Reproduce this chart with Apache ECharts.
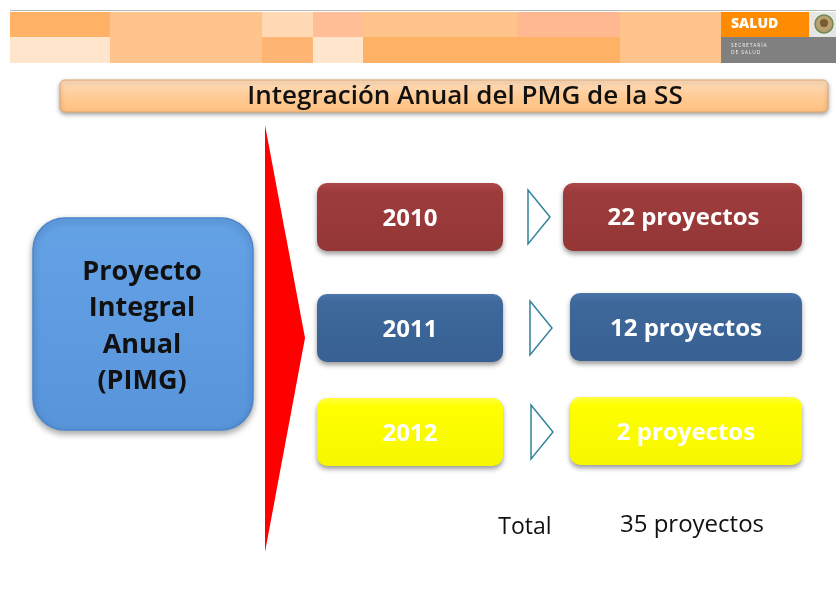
<!DOCTYPE html>
<html><head><meta charset="utf-8">
<script src="https://cdn.jsdelivr.net/npm/echarts@6/dist/echarts.min.js"></script>
<style>html,body{margin:0;padding:0;background:#fff}#c{width:836px;height:589px}</style>
</head><body><div id="c"></div>
<script>
// ---- content ----
const titleText = 'Integración Anual del PMG de la SS';
const centerLines = ['Proyecto', 'Integral', 'Anual', '(PIMG)'];
const years = ['2010', '2011', '2012'];
const projectCounts = [22, 12, 2];
const projectUnit = 'proyectos';
const totalLabel = 'Total';
const totalCount = 35;
const brandTop = 'SALUD';
const brandBottom = ['SECRETARÍA', 'DE SALUD'];

// ---- layout / style ----
const FONT = '"Open Sans", "Noto Sans", sans-serif';
const rowColors = [
  ['#AE4848', '#9E3C3C', '#943636'],
  ['#4A76AA', '#3F699B', '#386092'],
  ['#FFFF40', '#FFFF00', '#F6F600']
];
const rowTops = [183, 294, 398];
const rowH = 68;
const leftBox = { x: 317, w: 186 };
const rightBoxX = [563, 570, 570];
const rightBoxR = 802;
const chevX = [528, 530, 531];

const g = [];

// header tiles
const topTiles = [[10,110,'#FFB266'],[110,262,'#FFC48C'],[262,313,'#FFD9B3'],[313,363,'#FFBE96'],
  [363,517,'#FFC48C'],[517,620,'#FFB890'],[620,721,'#FFC48C'],[721,809,'#FF8C00'],[809,836,'#E6E6E6']];
const botTiles = [[10,110,'#FFE5CC'],[110,262,'#FFC48C'],[262,313,'#FFB574'],[313,363,'#FFE5CC'],
  [363,620,'#FFB266'],[620,721,'#FFC48C'],[721,836,'#808080']];
g.push({ type: 'line', shape: { x1: 10, y1: 10.5, x2: 836, y2: 10.5 }, style: { stroke: '#B8B8B8', lineWidth: 1 } });
topTiles.forEach(t => g.push({ type: 'rect', shape: { x: t[0], y: 12, width: t[1] - t[0], height: 25 }, style: { fill: t[2] } }));
botTiles.forEach(t => g.push({ type: 'rect', shape: { x: t[0], y: 37, width: t[1] - t[0], height: 26 }, style: { fill: t[2] } }));
g.push({ type: 'text', x: 731, y: 24, style: { text: brandTop, fill: '#fff', font: '800 14px ' + FONT, textVerticalAlign: 'middle' } });
brandBottom.forEach((s, i) => g.push({ type: 'text', x: 731, y: 46 + i * 7, style: { text: s.split('').join('\u2009'), fill: '#F0F0F0', font: '5px ' + FONT, textVerticalAlign: 'middle' } }));
g.push({ type: 'circle', shape: { cx: 824, cy: 24, r: 9 }, style: { fill: '#B8A070', stroke: '#6E8A4E', lineWidth: 1.5 } });
g.push({ type: 'circle', shape: { cx: 824, cy: 23, r: 4 }, style: { fill: '#7A5A30' } });

// title bar
g.push({ type: 'rect', shape: { x: 60, y: 80, width: 768, height: 32, r: 5 },
  style: { fill: new echarts.graphic.LinearGradient(0, 0, 0, 1, [{ offset: 0, color: '#FFE0C0' }, { offset: 0.5, color: '#FFCB96' }, { offset: 1, color: '#FFC080' }]),
    stroke: '#E0A870', lineWidth: 1, shadowBlur: 4, shadowOffsetY: 2, shadowColor: 'rgba(0,0,0,0.35)' } });
g.push({ type: 'text', x: 465, y: 97, style: { text: titleText, fill: '#111', font: '600 26px ' + FONT, textAlign: 'center', textVerticalAlign: 'middle' } });

// central blue box
g.push({ type: 'rect', shape: { x: 33, y: 218, width: 220, height: 212, r: 32 },
  style: { fill: new echarts.graphic.LinearGradient(0, 0, 0, 1, [{ offset: 0, color: '#64A2E6' }, { offset: 1, color: '#5894DA' }]),
    stroke: '#4A86CC', lineWidth: 1.5, shadowBlur: 6, shadowOffsetY: 3, shadowColor: 'rgba(0,0,0,0.35)' } });
centerLines.forEach((s, i) => g.push({ type: 'text', x: 142, y: 272 + i * 36.5,
  style: { text: s, fill: '#111', font: 'bold 27px ' + FONT, textAlign: 'center', textVerticalAlign: 'middle' } }));

// red wedge
g.push({ type: 'polygon', shape: { points: [[265, 125], [305, 338], [265, 552]] }, style: { fill: '#FF0000' } });

// rows
years.forEach((y, i) => {
  const top = rowTops[i];
  const c = rowColors[i];
  const grad = () => new echarts.graphic.LinearGradient(0, 0, 0, 1, [{ offset: 0, color: c[0] }, { offset: 0.12, color: c[1] }, { offset: 1, color: c[2] }]);
  const sh = { shadowBlur: 5, shadowOffsetY: 3, shadowColor: 'rgba(0,0,0,0.4)' };
  g.push({ type: 'rect', shape: { x: leftBox.x, y: top, width: leftBox.w, height: rowH, r: 10 }, style: Object.assign({ fill: grad() }, sh) });
  g.push({ type: 'text', x: leftBox.x + leftBox.w / 2, y: top + rowH / 2 + 2,
    style: { text: y, fill: '#fff', font: 'bold 24px ' + FONT, textAlign: 'center', textVerticalAlign: 'middle' } });
  const cx = chevX[i], cy = top + rowH / 2;
  g.push({ type: 'polygon', shape: { points: [[cx, cy - 27], [cx + 22, cy], [cx, cy + 27]] }, style: { fill: 'none', stroke: '#31849B', lineWidth: 1.5 } });
  const rx = rightBoxX[i];
  g.push({ type: 'rect', shape: { x: rx, y: top - (i ? 1 : 0), width: rightBoxR - rx, height: rowH, r: 10 }, style: Object.assign({ fill: grad() }, sh) });
  g.push({ type: 'text', x: (rx + rightBoxR) / 2 + (i ? 0 : 1), y: top + rowH / 2 + 1,
    style: { text: projectCounts[i] + ' ' + projectUnit, fill: '#fff', font: 'bold 24px ' + FONT, textAlign: 'center', textVerticalAlign: 'middle' } });
});

// total
g.push({ type: 'text', x: 525, y: 527, style: { text: totalLabel, fill: '#111', font: '23px ' + FONT, textAlign: 'center', textVerticalAlign: 'middle' } });
g.push({ type: 'text', x: 692, y: 525, style: { text: totalCount + ' ' + projectUnit, fill: '#111', font: '24px ' + FONT, textAlign: 'center', textVerticalAlign: 'middle' } });

const chart = echarts.init(document.getElementById('c'), null, { renderer: 'canvas' });
chart.setOption({ backgroundColor: '#fff', animation: false, graphic: { elements: g } });
</script></body></html>
